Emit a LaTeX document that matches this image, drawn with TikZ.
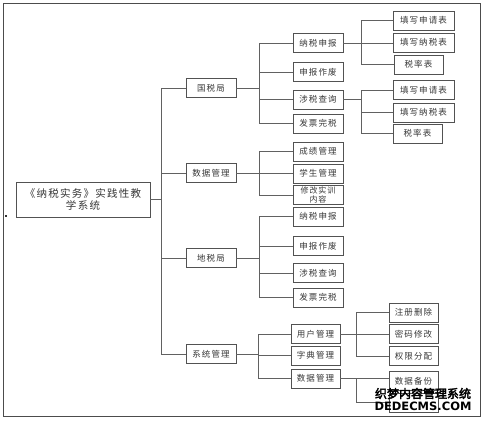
\documentclass[tikz,border=0pt]{standalone}
\usepackage{fontspec}
\setmainfont{Noto Sans CJK SC}[LetterSpace=12]
\newfontfamily\wmfont{Noto Sans CJK SC}[FakeBold=3]
\newfontfamily\wmlat{DejaVu Sans}
\usetikzlibrary{calc}
\begin{document}
\begin{tikzpicture}[x=1pt,y=-1pt,
  bx/.style={draw=black!68, line width=0.75pt, fill=white, minimum height=19pt,
    inner sep=0pt, text=black!78, font=\fontsize{8.5}{9}\selectfont},
  wA/.style={bx, minimum width=50pt},
  wB/.style={bx, minimum width=49pt},
  wC/.style={bx, minimum width=61pt},
  ln/.style={draw=black!62, line width=0.75pt},
  wm/.style={inner sep=0pt, font=\wmfont\fontsize{12}{12}\selectfont},
  wml/.style={inner sep=0pt, font=\wmlat\bfseries\fontsize{11.5}{12}\selectfont}]
\useasboundingbox (0,0) rectangle (484,421);
\fill[white] (0,0) rectangle (484,421);
\draw[black!70, line width=1pt] (3,3) rectangle (480,416);
\fill[black!80] (5,215) rectangle (7,217);

% root
\node[bx, minimum width=134pt, minimum height=35pt, align=center,
  font=\fontsize{10.5}{12.5}\selectfont] (root) at (83,199.5) {《纳税实务》实践性教\\学系统};

% level 1
\node[wA] (gs) at (211,88) {国税局};
\node[wA] (sj) at (211,173) {数据管理};
\node[wA] (ds) at (211,258) {地税局};
\node[wA] (xt) at (211,354) {系统管理};

% level 2
\node[wA] (nssb) at (318,43) {纳税申报};
\node[wA] (sbzf) at (318,72) {申报作废};
\node[wA] (sscx) at (318,99.5) {涉税查询};
\node[wA] (fpws) at (318,123.5) {发票完税};

\node[wA] (cjgl) at (318,151.5) {成绩管理};
\node[wA] (xsgl) at (318,173.5) {学生管理};
\node[wA, align=center, font=\fontsize{8}{8.3}\selectfont] (xgsx) at (318,195) {修改实训\\内容};

\node[wA] (nssb2) at (318,216.5) {纳税申报};
\node[wA] (sbzf2) at (318,246) {申报作废};
\node[wA] (sscx2) at (318,273) {涉税查询};
\node[wA] (fpws2) at (318,297.5) {发票完税};

\node[wB] (yhgl) at (315.5,334) {用户管理};
\node[wB] (zdgl) at (315.5,355.5) {字典管理};
\node[wB] (sjgl2) at (315.5,378.5) {数据管理};

% level 3
\node[wC] (txsq) at (423.5,20.5) {填写申请表};
\node[wC] (txns) at (423.5,42.5) {填写纳税表};
\node[wB] (slb) at (418.5,64.5) {税率表};

\node[wC] (txsq2) at (423.5,90) {填写申请表};
\node[wC] (txns2) at (423.5,112.5) {填写纳税表};
\node[wB] (slb2) at (417.5,133.5) {税率表};

\node[wB] (zcsc) at (413.5,312.5) {注册删除};
\node[wB] (mmxg) at (413.5,334) {密码修改};
\node[wB] (qxfp) at (413.5,356) {权限分配};

\node[wB] (sjbf) at (413.5,381) {数据备份};
\node[wB] (sjhf) at (413.5,402.5) {};

% trunk coordinates
\coordinate (t0) at (161,0);
\coordinate (t1) at (259,0);
\coordinate (t1b) at (258,0);
\coordinate (t2) at (361,0);
\coordinate (t3) at (356,0);

% root -> level 1
\draw[ln] (root.east) -- (root.east -| t0);
\draw[ln] (gs.west -| t0) -- (xt.west -| t0);
\foreach \n in {gs,sj,ds,xt} \draw[ln] (\n.west) -- (\n.west -| t0);

% 国税局
\draw[ln] (gs.east) -- (gs.east -| t1);
\draw[ln] (nssb.west -| t1) -- (fpws.west -| t1);
\foreach \n in {nssb,sbzf,sscx,fpws} \draw[ln] (\n.west) -- (\n.west -| t1);

% 数据管理
\draw[ln] (sj.east) -- (sj.east -| t1);
\draw[ln] (cjgl.west -| t1) -- (xgsx.west -| t1);
\foreach \n in {cjgl,xsgl,xgsx} \draw[ln] (\n.west) -- (\n.west -| t1);

% 地税局
\draw[ln] (ds.east) -- (ds.east -| t1);
\draw[ln] (nssb2.west -| t1) -- (fpws2.west -| t1);
\foreach \n in {nssb2,sbzf2,sscx2,fpws2} \draw[ln] (\n.west) -- (\n.west -| t1);

% 系统管理
\draw[ln] (xt.east) -- (xt.east -| t1b);
\draw[ln] (yhgl.west -| t1b) -- (sjgl2.west -| t1b);
\foreach \n in {yhgl,zdgl,sjgl2} \draw[ln] (\n.west) -- (\n.west -| t1b);

% 纳税申报 -> forms
\draw[ln] (nssb.east) -- (nssb.east -| txns.west);
\draw[ln] (txsq.west -| t2) -- (slb.west -| t2);
\foreach \n in {txsq,slb} \draw[ln] (\n.west) -- (\n.west -| t2);

% 涉税查询 -> forms
\draw[ln] (sscx.east) -- (sscx.east -| t2);
\draw[ln] (txsq2.west -| t2) -- (slb2.west -| t2);
\foreach \n in {txsq2,txns2,slb2} \draw[ln] (\n.west) -- (\n.west -| t2);

% 用户管理
\draw[ln] (yhgl.east) -- (yhgl.east -| mmxg.west);
\draw[ln] (zcsc.west -| t3) -- (qxfp.west -| t3);
\foreach \n in {zcsc,qxfp} \draw[ln] (\n.west) -- (\n.west -| t3);

% 数据管理 (系统)
\draw[ln] (sjgl2.east) -- (sjgl2.east -| sjbf.west);
\draw[ln] (sjgl2.east -| t3) -- (sjhf.west -| t3);
\draw[ln] (sjhf.west -| t3) -- (sjhf.west);

% watermark
\node[wm, text=black] (wmA) at (423,393.5) {织梦内容管理系统};
\node[wml, text=black] (wmB) at (423,406.5) {DEDECMS.COM};
\end{tikzpicture}
\end{document}
